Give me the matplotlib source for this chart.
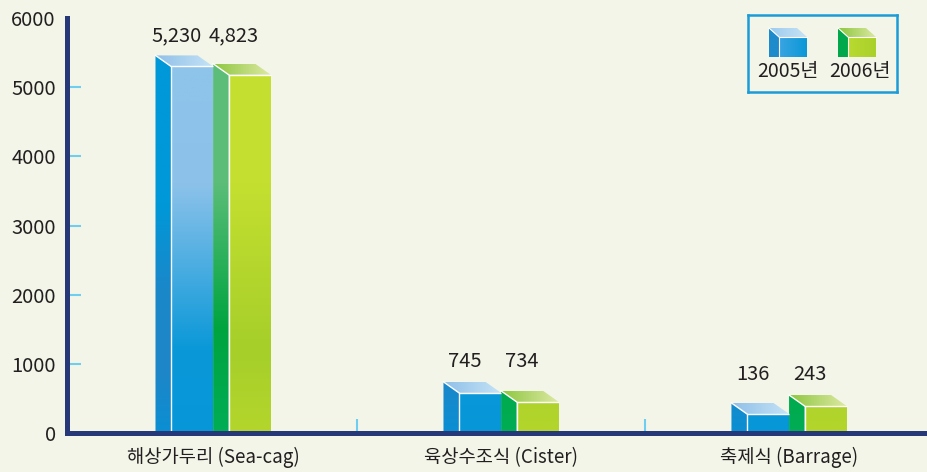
import numpy as np
import matplotlib.pyplot as plt
from matplotlib.patches import Polygon
from matplotlib.colors import to_rgb

plt.rcParams['font.family'] = ['Noto Sans CJK KR', 'DejaVu Sans']

categories = ['해상가두리 (Sea-cag)', '육상수조식 (Cister)', '축제식 (Barrage)']
years = ['2005년', '2006년']
values_2005 = [5230, 745, 136]
values_2006 = [4823, 734, 243]
# bar heights as they are drawn in the picture
heights_2005 = [5300, 580, 275]
heights_2006 = [5180, 450, 390]

BG = '#f2f5e7'
NAVY = '#263877'
TICK = '#6fcdf0'
TXT = '#231f20'

blue = {
    'side': [(0, '#0b8fd3'), (0.15, '#1e86c8'), (0.35, '#1a88ca'), (0.55, '#0098d8'), (1, '#0098d8')],
    'front': [(0, '#0797d8'), (0.2, '#0a98d8'), (0.6, '#8cc2ea'), (1, '#90c5ea')],
    'top': [(0, '#8fbfe8'), (1, '#c4e3f6')],
}
green = {
    'side': [(0, '#00ad55'), (0.25, '#00a43f'), (0.6, '#5bbd78'), (1, '#5dbe7a')],
    'front': [(0, '#b4d62c'), (0.2, '#a6cf2a'), (0.6, '#c4df30'), (1, '#c6e032')],
    'top': [(0, '#8cc63e'), (1, '#dee9a4')],
}


def ramp(stops, pos):
    p = [s[0] for s in stops]
    rgb = np.array([to_rgb(s[1]) for s in stops])
    return np.stack([np.interp(pos, p, rgb[:, k]) for k in range(3)], axis=-1)


def face(ax, verts, stops, axis='y', rng=None, z=2):
    verts = np.asarray(verts, float)
    x0, x1 = verts[:, 0].min(), verts[:, 0].max()
    y0, y1 = verts[:, 1].min(), verts[:, 1].max()
    poly = Polygon(verts, closed=True, facecolor='none', edgecolor='none', zorder=z)
    ax.add_patch(poly)
    if axis == 'y':
        lo, hi = rng if rng else (y0, y1)
        pos = (np.linspace(y0, y1, 200) - lo) / (hi - lo)
        img = ramp(stops, pos)[:, None, :]
    else:
        lo, hi = rng if rng else (x0, x1)
        pos = (np.linspace(x0, x1, 200) - lo) / (hi - lo)
        img = ramp(stops, pos)[None, :, :]
    im = ax.imshow(img, extent=[x0, x1, y0, y1], origin='lower', aspect='auto',
                   interpolation='bilinear', zorder=z)
    im.set_clip_path(poly)


def box(ax, fx0, fw, h, dx, dy, col, rng, lw=1.0):
    fx1 = fx0 + fw
    face(ax, [(fx0 - dx, 0), (fx0 - dx, h + dy), (fx0, h), (fx0, 0)], col['side'], rng=rng)
    face(ax, [(fx0, 0), (fx1, 0), (fx1, h), (fx0, h)], col['front'], rng=rng)
    face(ax, [(fx0, h), (fx1, h), (fx1 - dx, h + dy), (fx0 - dx, h + dy)], col['top'], axis='x')
    ax.plot([fx0, fx0, fx1], [0, h, h], color='white', lw=lw, zorder=2.2, solid_capstyle='butt')
    ax.plot([fx0, fx0 - dx], [h, h + dy], color='white', lw=lw, zorder=2.2)


fig = plt.figure(figsize=(9.27, 4.72), dpi=100)
fig.patch.set_facecolor(BG)
ax = fig.add_axes([66.8 / 927, 1 - 433 / 472, 1 - 66.8 / 927, (433 - 18) / 472])
ax.set_facecolor(BG)

x = np.arange(len(categories))
fw, dx, dy = 0.146, 0.054, 159
for i, c in enumerate(x):
    for fx0, h, col in [(c - fw, heights_2005[i], blue), (c + dx, heights_2006[i], green)]:
        box(ax, fx0, fw, h, dx, dy, col, rng=(0, 6000))
    top = max(heights_2005[i], heights_2006[i]) + dy + 290
    ax.text(c - fw / 2 - dx, top, f'{values_2005[i]:,}', ha='center', va='center',
            fontsize=14.5, color=TXT)
    ax.text(c + dx + fw / 2 - dx, top, f'{values_2006[i]:,}', ha='center', va='center',
            fontsize=14.5, color=TXT)

ax.set_xlim(-0.508, 2.479)
ax.set_ylim(0, 6000)
for s in ['top', 'right']:
    ax.spines[s].set_visible(False)
for s in ['left', 'bottom']:
    ax.spines[s].set_color(NAVY)
    ax.spines[s].set_linewidth(3.6)
    ax.spines[s].set_zorder(3)

ax.set_yticks(np.arange(0, 6001, 1000))
ax.tick_params(axis='y', direction='in', length=10, width=1.5, color=TICK,
               labelsize=14.5, labelcolor=TXT, pad=8)
ax.yaxis.get_major_ticks()[-1].tick1line.set_visible(False)
ax.set_xticks(x)
ax.set_xticklabels(categories)
ax.tick_params(axis='x', which='major', length=0, labelsize=13.5, labelcolor=TXT, pad=10)
ax.set_xticks([0.5, 1.5], minor=True)
ax.tick_params(axis='x', which='minor', direction='in', length=10, width=1.5, color=TICK)

# legend box
lax = fig.add_axes([748 / 927, 1 - 92 / 472, 149 / 927, 77 / 472])
lax.set_facecolor(BG)
lax.set_xticks([])
lax.set_yticks([])
for s in lax.spines.values():
    s.set_color('#1b9bd8')
    s.set_linewidth(1.8)
leg_blue = {'side': [(0, '#1e8bcc'), (1, '#1e8bcc')],
            'front': [(0, '#3aa4e2'), (1, '#0a98d8')],
            'top': [(0, '#9dcbee'), (1, '#c5e3f6')]}
leg_green = {'side': [(0, '#00a84c'), (1, '#00a84c')],
             'front': [(0, '#b9da30'), (1, '#a9d12b')],
             'top': [(0, '#8cc63f'), (1, '#dbe9a0')]}


def leg_box(ax, fx0, col):
    fw, h, dx, dy, base = 28, 20, 10, 9, 35
    fx1 = fx0 + fw
    face(ax, [(fx0 - dx, base), (fx0 - dx, base + h + dy), (fx0, base + h), (fx0, base)], col['side'])
    face(ax, [(fx0, base), (fx1, base), (fx1, base + h), (fx0, base + h)], col['front'], axis='x')
    face(ax, [(fx0, base + h), (fx1, base + h), (fx1 - dx, base + h + dy), (fx0 - dx, base + h + dy)],
         col['top'], axis='x')
    ax.plot([fx0, fx0, fx1], [base, base + h, base + h], color='white', lw=0.8, zorder=2.2)
    ax.plot([fx0, fx0 - dx], [base + h, base + h + dy], color='white', lw=0.8, zorder=2.2)


for fx0, col, lab, tx in [(31, leg_blue, years[0], 40), (100, leg_green, years[1], 111.5)]:
    leg_box(lax, fx0, col)
    lax.text(tx, 20, lab, ha='center', va='center', fontsize=14, color=TXT)
lax.set_xlim(0, 149)
lax.set_ylim(0, 77)

fig.savefig('out.png', dpi=100, facecolor=BG)
